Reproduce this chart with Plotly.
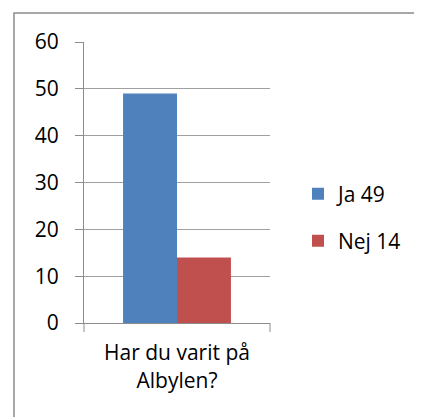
import plotly.graph_objects as go

categories = ["Har du varit på<br>Albylen?"]
series_names = ["Ja 49", "Nej 14"]
ja_values = [49]
nej_values = [14]
y_ticks = [0, 10, 20, 30, 40, 50, 60]

OFF = 8  # page body margin
W, H = 422 - OFF, 417 - OFF
L, R, T, B = 84 - OFF, 270 - OFF, 42 - OFF, 323 - OFF  # plot area in pixels


def px_x(x):
    return (x - OFF - L) / (R - L)


def px_y(y):
    return (B - (y - OFF)) / (B - T)


fig = go.Figure()
fig.add_trace(go.Bar(x=categories, y=ja_values, name=series_names[0],
                     marker=dict(color="#4F81BD", line=dict(width=0)),
                     legend="legend"))
fig.add_trace(go.Bar(x=categories, y=nej_values, name=series_names[1],
                     marker=dict(color="#C0504D", line=dict(width=0)),
                     legend="legend2"))

leg = dict(xanchor="left", yanchor="middle", font=dict(size=21),
           itemwidth=30, bgcolor="rgba(0,0,0,0)", borderwidth=0)

fig.update_layout(
    width=W, height=H,
    margin=dict(l=L, r=W - R, t=T, b=H - B, autoexpand=False),
    paper_bgcolor="white", plot_bgcolor="white",
    barmode="group", bargap=0.42, bargroupgap=0,
    font=dict(family="Open Sans", size=21, color="black"),
    showlegend=True,
    legend=dict(x=px_x(298), y=px_y(194), **leg),
    legend2=dict(x=px_x(298), y=px_y(241), **leg),
    xaxis=dict(showline=True, linecolor="#8c8c8c", linewidth=1,
               ticks="", showgrid=False, tickfont=dict(size=21),
               ticklabelstandoff=11),
    yaxis=dict(range=[0, 60], tickvals=y_ticks, showgrid=True,
               gridcolor="#a0a0a0", gridwidth=1, showline=True,
               linecolor="#8c8c8c", linewidth=1, ticks="outside",
               tickcolor="#8c8c8c", ticklen=8, zeroline=False,
               tickfont=dict(size=21), ticklabelstandoff=12),
    shapes=[
        dict(type="rect", xref="paper", yref="paper",
             x0=px_x(14), x1=px_x(430), y0=px_y(430), y1=px_y(13),
             line=dict(color="#8c8c8c", width=1.5), layer="below"),
        # category boundary ticks below x axis
        dict(type="line", xref="paper", yref="paper",
             x0=0, x1=0, y0=0, y1=px_y(323 + 9),
             line=dict(color="#8c8c8c", width=1)),
        dict(type="line", xref="paper", yref="paper",
             x0=1, x1=1, y0=0, y1=px_y(323 + 9),
             line=dict(color="#8c8c8c", width=1)),
    ],
)

fig.write_html("out.html")
